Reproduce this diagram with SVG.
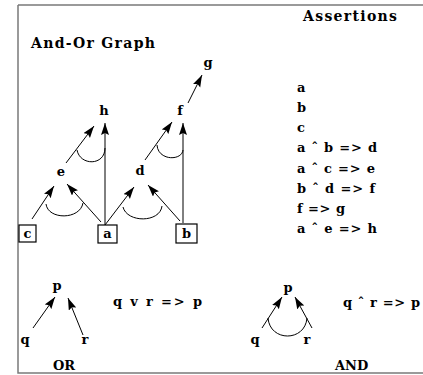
<svg xmlns="http://www.w3.org/2000/svg" width="423" height="375" viewBox="0 0 423 375">
<defs>
<marker id="ah" markerUnits="userSpaceOnUse" markerWidth="13" markerHeight="9" refX="12" refY="4" orient="auto">
<path d="M0,0 L12,4 L0,8 L2,4 Z" fill="#000"/>
</marker>
<style>
.t{font-family:"DejaVu Serif","Liberation Serif",serif;font-weight:bold;font-size:13px;fill:#000}
.h{font-size:14px}
.lbl{text-anchor:middle}
.ln{stroke:#000;stroke-width:1;fill:none}
.ar{stroke:#000;stroke-width:1;fill:none;marker-end:url(#ah)}
.box{stroke:#000;stroke-width:1.2;fill:#fff}
.frame{stroke:#7a7a7a;stroke-width:1.5;fill:none}
</style>
</defs>
<rect width="423" height="375" fill="#fff"/>
<path class="frame" d="M18,5 H423 M18,5 V373 H423"/>
<text class="t h" x="31" y="48" textLength="124">And-Or Graph</text>
<text class="t h" x="303" y="21" textLength="94">Assertions</text>
<g id="assertions">
<text class="t" x="297" y="92">a</text>
<text class="t" x="297" y="112">b</text>
<text class="t" x="297" y="132">c</text>
<text class="t" x="297" y="152" xml:space="preserve" textLength="80">a ˆ b =&gt; d</text>
<text class="t" x="297" y="173" xml:space="preserve" textLength="78">a ˆ c =&gt; e</text>
<text class="t" x="297" y="193" xml:space="preserve" textLength="78">b ˆ d =&gt; f</text>
<text class="t" x="297" y="213" xml:space="preserve" textLength="48">f =&gt; g</text>
<text class="t" x="297" y="233" xml:space="preserve" textLength="80">a ˆ e =&gt; h</text>
</g>
<g id="connectors">
<line class="ar" x1="32" y1="219" x2="54" y2="186"/>
<line class="ar" x1="101" y1="222" x2="67" y2="184"/>
<path class="ln" d="M46,204 C48,220 80,220 83,203"/>
<line class="ar" x1="105" y1="225" x2="105" y2="123"/>
<line class="ar" x1="66" y1="163" x2="94" y2="126"/>
<path class="ln" d="M77,150 C80,166 105,166 105,148"/>
<line class="ar" x1="105" y1="225" x2="134" y2="187"/>
<line class="ar" x1="180" y1="221" x2="148" y2="185"/>
<path class="ln" d="M123,207 C127,223 160,223 162,206"/>
<line class="ar" x1="183" y1="223" x2="183" y2="123"/>
<line class="ar" x1="145" y1="160" x2="172" y2="122"/>
<path class="ln" d="M157,145 C158,161 182,161 183,150"/>
<line class="ar" x1="188" y1="103" x2="202" y2="75"/>
<line class="ar" x1="33" y1="328" x2="55" y2="297"/>
<line class="ar" x1="83" y1="335" x2="68" y2="298"/>
<line class="ar" x1="262" y1="328" x2="282" y2="297"/>
<line class="ar" x1="312" y1="328" x2="295" y2="297"/>
<path class="ln" d="M268,318 C270,342 305,342 307,318"/>
</g>
<g id="node-g"><text class="t lbl" x="208" y="67">g</text></g>
<g id="node-h"><text class="t lbl" x="104" y="115">h</text></g>
<g id="node-f"><text class="t lbl" x="180" y="115">f</text></g>
<g id="node-e"><text class="t lbl" x="61" y="176">e</text></g>
<g id="node-d"><text class="t lbl" x="140" y="175">d</text></g>
<g id="node-c"><rect class="box" x="19" y="225" width="17" height="17"/><text class="t lbl" x="27.5" y="238">c</text></g>
<g id="node-a"><rect class="box" x="98" y="225" width="19" height="18"/><text class="t lbl" x="107.5" y="238">a</text></g>
<g id="node-b"><rect class="box" x="176" y="224" width="21" height="19"/><text class="t lbl" x="186.5" y="238">b</text></g>
<g id="or-example">
<text class="t lbl" x="57" y="290">p</text>
<text class="t lbl" x="25" y="344">q</text>
<text class="t lbl" x="85" y="344">r</text>
<text class="t" x="53" y="370">OR</text>
<text class="t" x="113" y="306" xml:space="preserve" textLength="89">q v r =&gt; p</text>
</g>
<g id="and-example">
<text class="t lbl" x="288" y="292">p</text>
<text class="t lbl" x="255" y="344">q</text>
<text class="t lbl" x="307" y="344">r</text>
<text class="t" x="335" y="370">AND</text>
<text class="t" x="343" y="307" xml:space="preserve" textLength="77">q ˆ r =&gt; p</text>
</g>
</svg>
